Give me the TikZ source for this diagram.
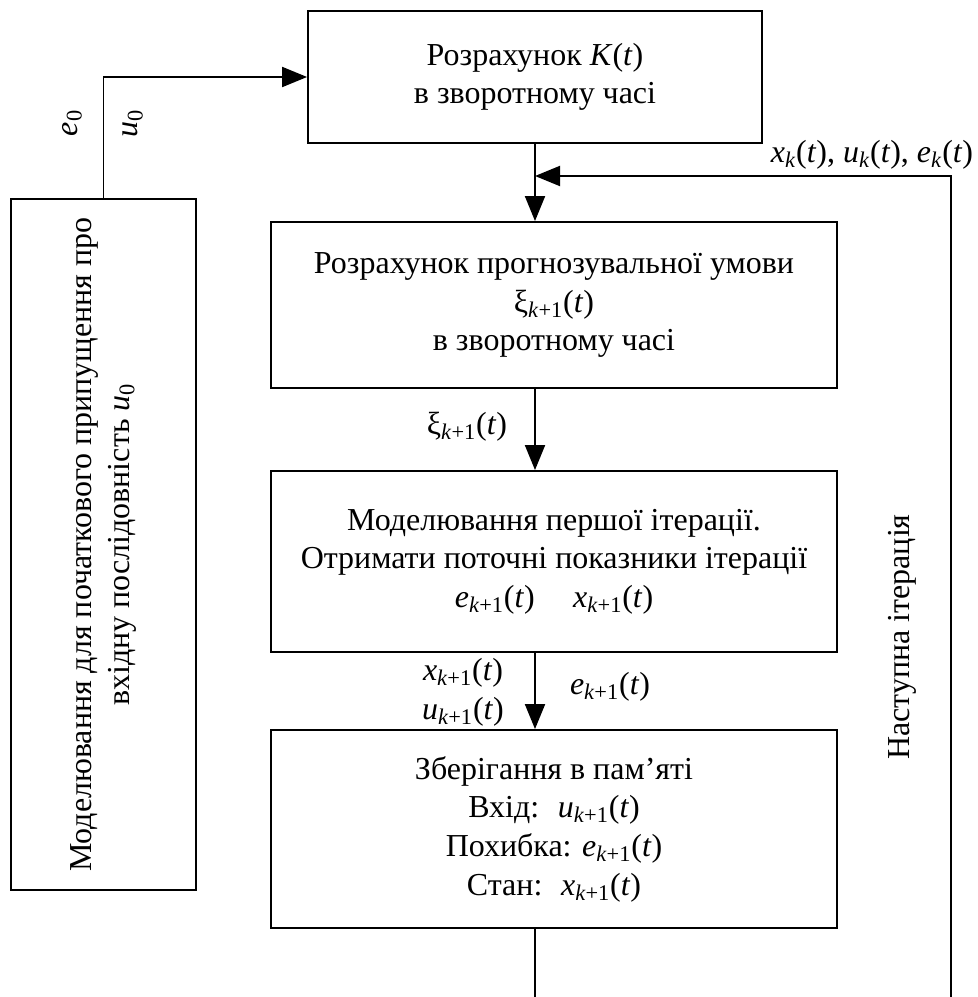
\documentclass[tikz,border=0pt]{standalone}
\usepackage{fontspec}
\setmainfont{Liberation Serif}
\usetikzlibrary{arrows.meta, positioning}

\newcommand{\kv}[1]{\textit{#1}\textsubscript{\textit{k}+1}(\textit{t})}
\newcommand{\kz}[1]{\textit{#1}\textsubscript{\textit{k}}(\textit{t})}

\tikzset{
    block/.style = {draw, line width=1.1pt, align=center, inner sep=0pt, minimum width=11.32cm},
    flow/.style = {-{Triangle[length=0.5cm, width=0.4cm]}, line width=1.1pt},
    wire/.style = {line width=1.1pt}
}

\begin{document}
\begin{tikzpicture} [x=0.02cm, y=-0.02cm, font=\fontsize{18.2}{22}\selectfont]
    \useasboundingbox (0,0) rectangle (977,997);

    \node (calcK) [block, minimum width=9.08cm, minimum height=2.64cm] at (535,77)
        {Розрахунок \textit{K}(\textit{t})\\в зворотному часі};
    \node (init) [block, rotate=90, minimum width=13.82cm, minimum height=3.7cm] at (103.5,544.5)
        {Моделювання для початкового припущення про\\вхідну послідовність \textit{u}\textsubscript{0}};
    \node (predict) [block, minimum height=3.32cm] at (554,305)
        {Розрахунок прогнозувальної умови\\ξ\textsubscript{\textit{k}+1}(\textit{t})\\в зворотному часі};
    \node (sim) [block, minimum height=3.62cm] at (554,561.5)
        {Моделювання першої ітерації.\\Отримати поточні показники ітерації\\\kv{e}\hspace{1.2em}\kv{x}};
    \node (store) [block, minimum height=3.96cm] at (554,829)
        {Зберігання в пам’яті\\Вхід: \ \kv{u}\\Похибка: \kv{e}\\Стан: \ \kv{x}};

    \coordinate (fbfoot) at (951,997);
    \coordinate (fbtop) at (951,176);
    \coordinate (fbjoin) at (535,176);
    \coordinate (outfoot) at (535,997);

    \draw [flow] (init.east) |- (calcK.west);
    \draw [flow] (calcK.south) -- (calcK.south |- predict.north);
    \draw [flow] (fbfoot) -- (fbtop) -- (fbjoin);
    \draw [flow] (predict.south -| calcK.south) -- (sim.north -| calcK.south);
    \draw [flow] (sim.south -| calcK.south) -- (store.north -| calcK.south);
    \draw [wire] (store.south -| calcK.south) -- (outfoot);

    \node (e0) [rotate=90] at (72,123) {\textit{e}\textsubscript{0}};
    \node (u0) [rotate=90] at (133,123) {\textit{u}\textsubscript{0}};
    \node (fblabel) at (872,155) {\kz{x}, \kz{u}, \kz{e}};
    \node (xilabel) at (467,427) {ξ\textsubscript{\textit{k}+1}(\textit{t})};
    \node (xlabel) at (463,673) {\kv{x}};
    \node (ulabel) at (463,712) {\kv{u}};
    \node (elabel) at (610,687) {\kv{e}};
    \node (next) [rotate=90] at (902,637) {Наступна ітерація};

\end{tikzpicture}
\end{document}
